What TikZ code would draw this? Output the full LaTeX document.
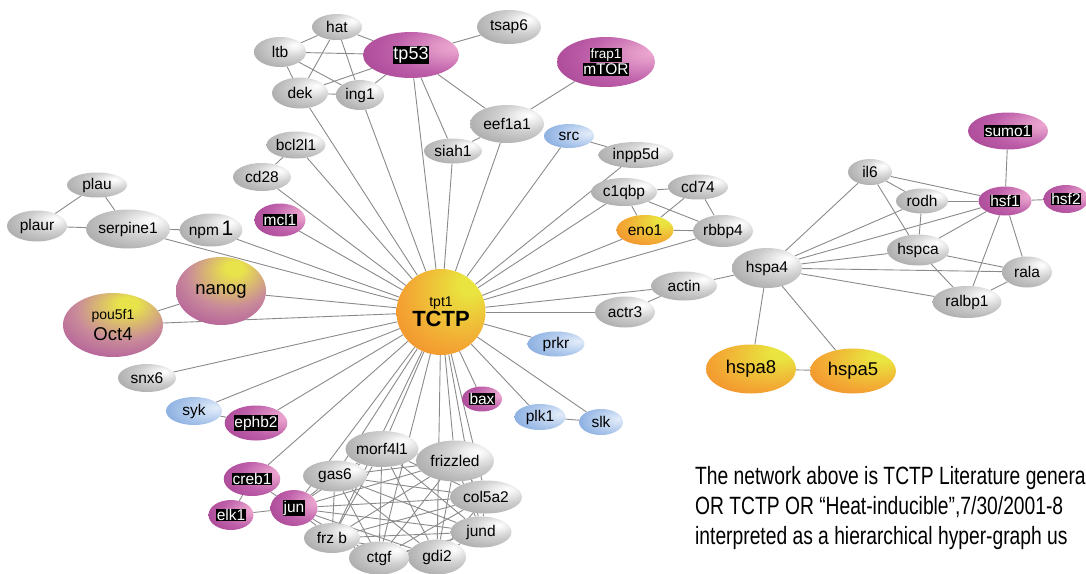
\documentclass[tikz,border=0pt]{standalone}
\usepackage{fontspec}
\setmainfont{Liberation Sans}
\newfontfamily\narrowfont[FakeStretch=0.77]{Liberation Sans}
\usepackage{xcolor}
\usetikzlibrary{shapes.geometric,backgrounds}
\definecolor{linkgray}{HTML}{8A8A8A}
\definecolor{greyhigh}{HTML}{F2F2F2}
\definecolor{greylight}{HTML}{CFCFCF}
\definecolor{greymid}{HTML}{ADADAD}
\definecolor{greydark}{HTML}{959595}
\definecolor{greyedge}{HTML}{8C8C8C}
\definecolor{maghigh}{HTML}{EDA8D2}
\definecolor{magpink}{HTML}{E197C6}
\definecolor{magmid}{HTML}{BE5FAA}
\definecolor{magdark}{HTML}{A4418F}
\definecolor{magedge}{HTML}{9A3888}
\definecolor{orgyel}{HTML}{E9E43F}
\definecolor{orgmid}{HTML}{F3A733}
\definecolor{orgdark}{HTML}{F07D29}
\definecolor{orgedge}{HTML}{ED7426}
\definecolor{bluehigh}{HTML}{E4EDF9}
\definecolor{bluelight}{HTML}{CCDDF4}
\definecolor{bluemid}{HTML}{8EB1E2}
\definecolor{bluedark}{HTML}{5C8CD2}
\definecolor{stemyel}{HTML}{E8E34A}
\definecolor{stemmid}{HTML}{C98A9A}
\definecolor{stemmag}{HTML}{A6469B}
\pgfdeclareradialshading{greyglow}{\pgfpoint{15bp}{12bp}}{color(0bp)=(white); color(6bp)=(greyhigh); color(18bp)=(greylight); color(35bp)=(greymid); color(55bp)=(greydark); color(70bp)=(greyedge)}
\pgfdeclareradialshading{magglow}{\pgfpoint{24bp}{10bp}}{color(0bp)=(maghigh); color(8bp)=(magpink); color(25bp)=(magmid); color(45bp)=(magdark); color(70bp)=(magedge)}
\pgfdeclareradialshading{orangeglow}{\pgfpoint{18bp}{18bp}}{color(0bp)=(orgyel); color(6bp)=(orgyel); color(30bp)=(orgmid); color(50bp)=(orgdark); color(70bp)=(orgedge)}
\pgfdeclareradialshading{blueglow}{\pgfpoint{20bp}{6bp}}{color(0bp)=(bluehigh); color(10bp)=(bluelight); color(35bp)=(bluemid); color(55bp)=(bluedark); color(70bp)=(bluedark)}
\pgfdeclareradialshading{stemglow}{\pgfpoint{8bp}{18bp}}{color(0bp)=(stemyel); color(5bp)=(stemyel); color(24bp)=(stemmid); color(45bp)=(stemmag); color(70bp)=(stemmag)}
\newcommand{\hilite}[1]{{\setlength{\fboxsep}{0.6pt}\colorbox{black}{\textcolor{white}{#1}}}}
\tikzset{
  gene/.style={ellipse, inner sep=0pt, shade, font=\fontsize{15.5}{16}\selectfont},
  greygene/.style={gene, shading=greyglow},
  maggene/.style={gene, shading=magglow},
  bluegene/.style={gene, shading=blueglow},
  orangegene/.style={gene, shading=orangeglow},
  stemgene/.style={gene, shading=stemglow, font=\fontsize{18.5}{19}\selectfont},
  sz/.style 2 args={minimum width=#1pt, minimum height=#2pt},
  link/.style={draw=linkgray, line width=0.9pt},
  note/.style={anchor=base west, inner sep=0pt, font=\narrowfont\fontsize{25}{28}\selectfont},
}
\begin{document}
\begin{tikzpicture}[x=1pt,y=-1pt]
\useasboundingbox (0,0) rectangle (1086,573);

% hub
\node[orangegene, sz={89}{86}, align=center] (TCTP) at (441,312)
  {{\fontsize{14}{15}\selectfont tpt1}\\[1pt]{\fontsize{22}{22}\selectfont\bfseries TCTP}};

% upper group
\node[greygene, sz={50}{26}] (hat) at (337,27) {hat};
\node[greygene, sz={52}{30}] (ltb) at (280,52) {ltb};
\node[greygene, sz={56}{31}] (dek) at (300,93) {dek};
\node[greygene, sz={48}{30}] (ing1) at (360,95) {ing1};
\node[maggene, sz={96}{46}, font=\fontsize{18}{19}\selectfont] (tp53) at (411,55) {\hilite{tp53}};
\node[greygene, sz={64}{34}] (tsap6) at (509,27) {tsap6};
\node[maggene, sz={98}{50}, align=center] (frap1) at (606,62)
  {\hilite{\fontsize{13.5}{14}\selectfont frap1}\\\hilite{mTOR}};
\node[greygene, sz={74}{38}] (eef1a1) at (507,124) {eef1a1};
\node[greygene, sz={58}{25}] (siah1) at (453,151) {siah1};
\node[bluegene, sz={50}{24}] (src) at (569,136) {src};
\node[greygene, sz={75}{26}] (inpp5d) at (636,155) {inpp5d};
\node[greygene, sz={59}{27}] (bcl2l1) at (296,145) {bcl2l1};
\node[greygene, sz={58}{28}] (cd28) at (262,177) {cd28};
\node[maggene, sz={51}{33}] (mcl1) at (280,220) {\hilite{mcl1}};

% left group
\node[greygene, sz={60}{25}] (plau) at (97,185) {plau};
\node[greygene, sz={60}{31}] (plaur) at (37,226) {plaur};
\node[greygene, sz={81}{39}] (serpine1) at (128,229) {serpine1};
\node[greygene, sz={58}{33}] (npm1) at (211,230) {npm\,{\fontsize{21}{21}\selectfont 1}};
\node[stemgene, sz={90}{68}] (nanog) at (221,291) {nanog};
\node[stemgene, sz={100}{64}, align=center] (Oct4) at (113,325)
  {{\fontsize{14}{15}\selectfont pou5f1}\\[2pt]Oct4};
\node[greygene, sz={58}{28}] (snx6) at (147,378) {snx6};
\node[bluegene, sz={56}{28}] (syk) at (194,411) {syk};
\node[maggene, sz={61}{35}] (ephb2) at (256,423) {\hilite{ephb2}};
\node[maggene, sz={51}{34}] (creb1) at (252,479) {\hilite{creb1}};
\node[maggene, sz={45}{30}] (elk1) at (231,515) {\hilite{elk1}};
\node[maggene, sz={47}{36}] (jun) at (294,508) {\hilite{jun}};

% lower cluster
\node[greygene, sz={64}{31}] (gas6) at (335,476) {gas6};
\node[greygene, sz={71}{36}] (morf4l1) at (382,449) {morf4l1};
\node[greygene, sz={78}{41}] (frizzled) at (455,461) {frizzled};
\node[greygene, sz={72}{33}] (col5a2) at (486,497) {col5a2};
\node[greygene, sz={61}{31}] (jund) at (481,532) {jund};
\node[greygene, sz={58}{35}] (gdi2) at (437,557) {gdi2};
\node[greygene, sz={60}{33}] (ctgf) at (379,558) {ctgf};
\node[greygene, sz={56}{30}] (frzb) at (332,538) {frz b};
\node[maggene, sz={40}{25}] (bax) at (482,399) {\hilite{bax}};
\node[bluegene, sz={51}{26}] (plk1) at (540,417) {plk1};
\node[bluegene, sz={44}{26}] (slk) at (601,422) {slk};
\node[bluegene, sz={57}{25}] (prkr) at (556,344) {prkr};

% right side
\node[greygene, sz={60}{31}] (actr3) at (625,312) {actr3};
\node[greygene, sz={66}{29}] (actin) at (684,286) {actin};
\node[greygene, sz={66}{28}] (c1qbp) at (624,192) {c1qbp};
\node[greygene, sz={60}{25}] (cd74) at (698,187) {cd74};
\node[orangegene, sz={57}{30}] (eno1) at (645,230) {eno1};
\node[greygene, sz={60}{32}] (rbbp4) at (723,231) {rbbp4};
\node[greygene, sz={70}{40}] (hspa4) at (767,268) {hspa4};
\node[greygene, sz={44}{26}] (il6) at (870,172) {il6};
\node[greygene, sz={52}{25}] (rodh) at (922,201) {rodh};
\node[greygene, sz={62}{31}] (hspca) at (918,250) {hspca};
\node[greygene, sz={50}{31}] (rala) at (1027,272) {rala};
\node[greygene, sz={69}{32}] (ralbp1) at (967,302) {ralbp1};
\node[maggene, sz={80}{37}] (sumo1) at (1008,131) {\hilite{sumo1}};
\node[maggene, sz={53}{29}] (hsf1) at (1005,201) {\hilite{hsf1}};
\node[maggene, sz={45}{28}] (hsf2) at (1066,199) {\hilite{hsf2}};
\node[orangegene, sz={90}{49}, font=\fontsize{18.5}{19}\selectfont] (hspa8) at (751,369) {hspa8};
\node[orangegene, sz={86}{45}, font=\fontsize{18.5}{19}\selectfont] (hspa5) at (853,371) {hspa5};

% caption
\node[note] (note1) at (695,484) {The network above is TCTP Literature genera};
\node[note] (note2) at (695,514) {OR TCTP OR “Heat-inducible”,7/30/2001-8};
\node[note] (note3) at (695,544) {interpreted as a hierarchical hyper-graph us};

\begin{scope}[on background layer]
% spokes from the hub
\foreach \g in {dek,ing1,tp53,siah1,eef1a1,src,inpp5d,c1qbp,eno1,rbbp4,
  bcl2l1,cd28,mcl1,npm1,serpine1,nanog,Oct4,snx6,syk,ephb2,creb1,
  gas6,morf4l1,frizzled,col5a2,jund,gdi2,ctgf,frzb,jun,bax,plk1,slk,prkr,actr3,actin}
  \draw[link] (TCTP) -- (\g);
% other links
\foreach \a/\b in {tp53/hat,tp53/ltb,tp53/dek,tp53/ing1,tp53/tsap6,tp53/siah1,tp53/eef1a1,
  hat/ltb,hat/dek,hat/ing1,ltb/dek,ltb/ing1,dek/ing1,eef1a1/frap1,eef1a1/siah1,
  src/inpp5d,bcl2l1/cd28,plau/plaur,plau/serpine1,plaur/serpine1,serpine1/npm1,
  nanog/Oct4,syk/ephb2,creb1/elk1,creb1/jun,elk1/jun,plk1/slk,actr3/actin,actin/hspa4,
  c1qbp/cd74,c1qbp/eno1,c1qbp/rbbp4,cd74/eno1,cd74/rbbp4,eno1/rbbp4,
  hspa4/il6,hspa4/rodh,hspa4/hsf1,hspa4/hspca,hspa4/rala,hspa4/ralbp1,
  hspa4/hspa8,hspa4/hspa5,hspa8/hspa5,il6/rodh,il6/hspca,il6/hsf1,
  rodh/hsf1,rodh/hspca,hspca/hsf1,hspca/rala,hspca/ralbp1,
  hsf1/ralbp1,hsf1/rala,hsf1/sumo1,hsf1/hsf2,rala/ralbp1}
  \draw[link] (\a) -- (\b);
% lower cluster, all pairs
\foreach \a [count=\i] in {jun,gas6,morf4l1,frizzled,col5a2,jund,gdi2,ctgf,frzb}
  \foreach \b [count=\j] in {jun,gas6,morf4l1,frizzled,col5a2,jund,gdi2,ctgf,frzb}
    {\ifnum\j>\i \draw[link] (\a) -- (\b); \fi}
\end{scope}
\end{tikzpicture}
\end{document}
